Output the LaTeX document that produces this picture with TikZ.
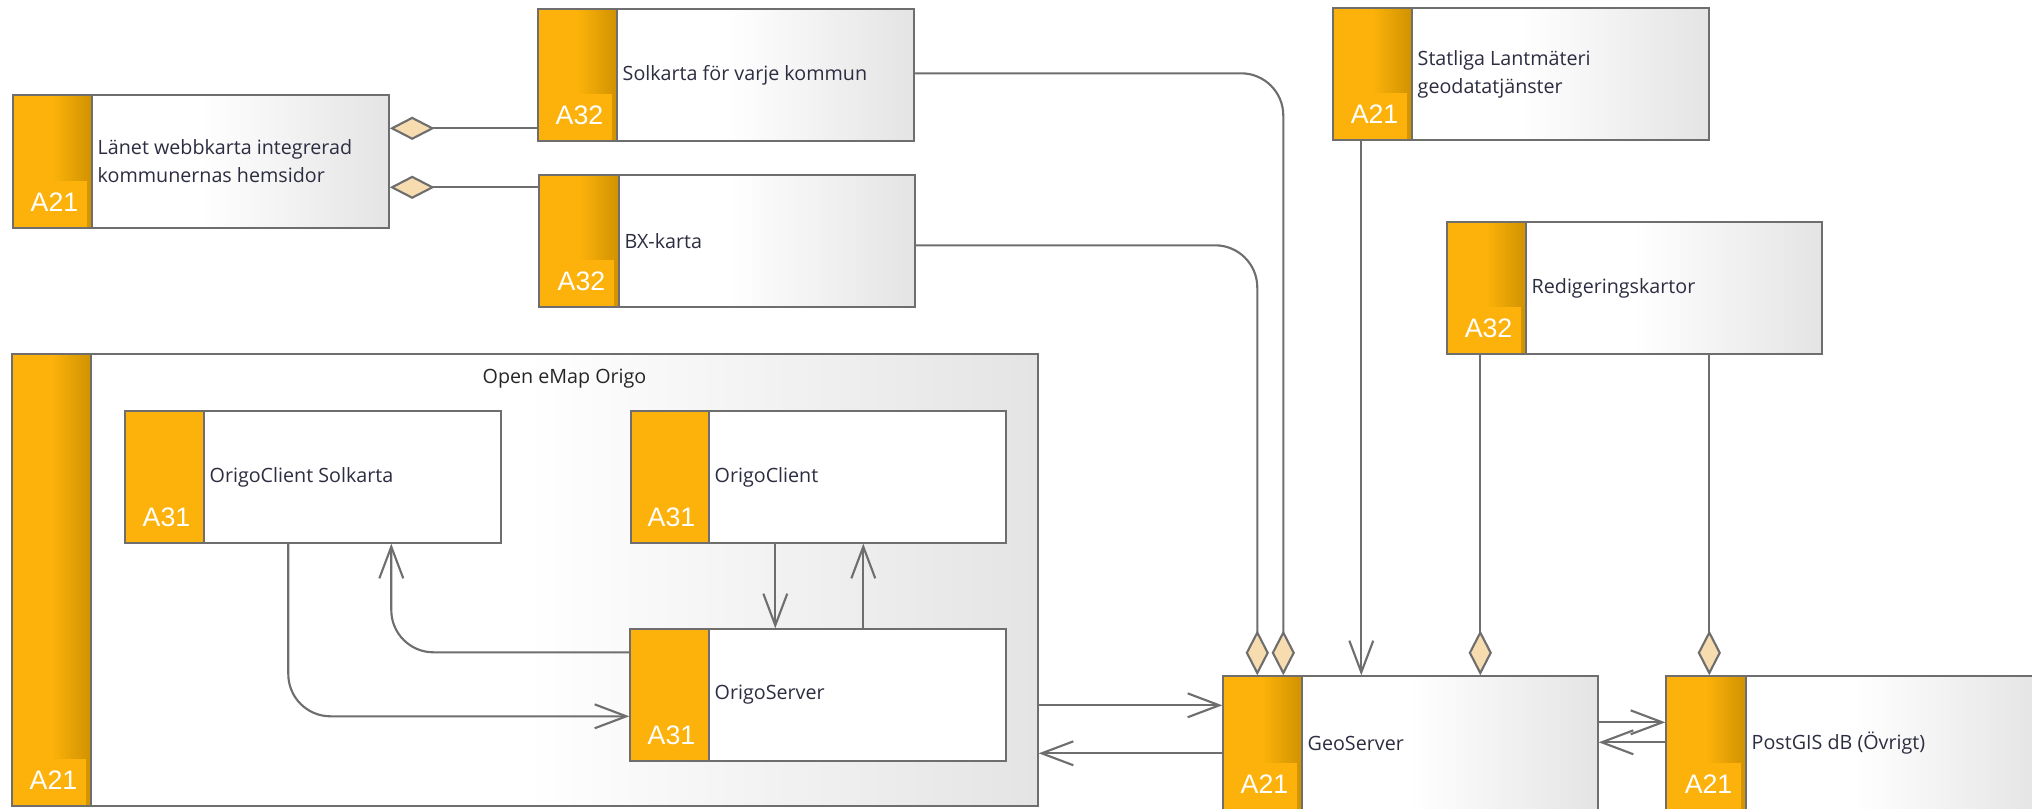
\documentclass[tikz,border=0pt]{standalone}
\usepackage{fontspec}
\setmainfont{Open Sans}
\newfontfamily\lblfont{Liberation Sans}
\usetikzlibrary{arrows.meta,calc,fit}
\definecolor{aorange}{RGB}{252,178,10}
\definecolor{adark}{RGB}{208,146,0}
\definecolor{boxgray}{RGB}{228,228,228}
\definecolor{linegray}{RGB}{110,110,110}
\definecolor{diafill}{RGB}{247,220,175}
\definecolor{txtcol}{RGB}{45,45,65}
\tikzset{
  frame/.style={draw=linegray,line width=0.6pt},
  conn/.style={draw=linegray,line width=0.6pt},
  maintext/.style={inner sep=0pt,font=\fontsize{5.6pt}{8pt}\selectfont,text=txtcol,align=left},
  lbltext/.style={inner sep=0pt,font=\lblfont\fontsize{7.6pt}{8pt}\selectfont,text=white},
  titletext/.style={inner sep=0pt,font=\fontsize{5.6pt}{8pt}\selectfont,text=black!85},
  myopen/.tip={Straight Barb[length=9pt,width=6.8pt]},
  mydia/.tip={Diamond[length=12.8pt,width=6.6pt,fill=diafill]},
}
% #1 name, #2 x1, #3 y1, #4 x2, #5 y2, #6 strip right, #7 label, #8 text
\newcommand\ArchBox[8]{%
  \fill[white] ({#2},{#3}) rectangle ({#4},{#5});
  \shade[left color=white,right color=boxgray] ({(#2+#4)/2},{#3}) rectangle ({#4},{#5});
  \fill[aorange] ({#2},{#3}) rectangle ({#6},{#5});
  \shade[left color=aorange,right color=adark] ({#2+0.5*(#6-#2)},{#3}) rectangle ({#6},{#5});
  \fill[aorange] ({#2},{#5-47}) rectangle ({#6-5},{#5});
  \draw[frame] ({#2},{#3}) rectangle ({#4},{#5}) ({#6},{#3}) -- ({#6},{#5});
  \node[fit={({#2},{#3}) ({#4},{#5})},inner sep=0pt] (#1) {};
  \node[lbltext,anchor=base east] (#1-l) at ({#6-13},{#5-17}) {#7};
  \node[maintext,anchor=west] (#1-t) at ({#6+5},{(#3+#5)/2}) {#8};
}
\newcommand\ArchFlat[8]{%
  \fill[white] ({#2},{#3}) rectangle ({#4},{#5});
  \fill[aorange] ({#2},{#3}) rectangle ({#6},{#5});
  \draw[frame] ({#2},{#3}) rectangle ({#4},{#5}) ({#6},{#3}) -- ({#6},{#5});
  \node[fit={({#2},{#3}) ({#4},{#5})},inner sep=0pt] (#1) {};
  \node[lbltext,anchor=base east] (#1-l) at ({#6-13},{#5-17}) {#7};
  \node[maintext,anchor=west] (#1-t) at ({#6+5},{(#3+#5)/2}) {#8};
}
\begin{document}
\begin{tikzpicture}[x=0.01cm,y=-0.01cm]
\clip (0,0) rectangle (2032,808);
\fill[white] (0,0) rectangle (2032,808);

% container
\ArchBox{cont}{12}{354}{1038}{806}{91}{A21}{}
\node[titletext,anchor=base] (cont-title) at (564.5,383) {Open eMap Origo};

% boxes
\ArchBox{lan}{13}{95}{389}{228}{92}{A21}{Länet webbkarta integrerad\\kommunernas hemsidor}
\ArchBox{sol}{538}{9}{914}{141}{617}{A32}{Solkarta för varje kommun}
\ArchBox{bx}{539}{175}{915}{307}{619}{A32}{BX-karta}
\ArchBox{stat}{1333}{8}{1709}{140}{1412}{A21}{Statliga Lantmäteri\\geodatatjänster}
\ArchBox{red}{1447}{222}{1822}{354}{1526}{A32}{Redigeringskartor}
\ArchBox{geo}{1223}{676}{1598}{810}{1302}{A21}{GeoServer}
\ArchBox{pg}{1666}{676}{2042}{810}{1746}{A21}{PostGIS dB (Övrigt)}

\ArchFlat{ocs}{125}{411}{501}{543}{204}{A31}{OrigoClient Solkarta}
\ArchFlat{oc}{631}{411}{1006}{543}{709}{A31}{OrigoClient}
\ArchFlat{os}{630}{629}{1006}{761}{709}{A31}{OrigoServer}

% connectors to Länet
\draw[conn,{mydia}-] ($(lan.north east)+(0,34)$) coordinate (la1) -- (la1 -| sol.west);
\draw[conn,{mydia}-] ($(lan.north east)+(0,93)$) coordinate (la2) -- (la2 -| bx.west);

% connectors to GeoServer
\draw[conn,rounded corners=12,-{mydia}] ($(sol.north east)+(0,65)$) -| ($(geo.north west)+(61,0)$);
\draw[conn,rounded corners=12,-{mydia}] ($(bx.north east)+(0,71)$) -| ($(geo.north west)+(35,0)$);
\draw[conn,-{myopen}] ($(stat.south west)+(29,0)$) coordinate (s1) -- (s1 |- geo.north);
\draw[conn,-{mydia}] ($(red.south west)+(34,0)$) coordinate (r1) -- (r1 |- geo.north);
\draw[conn,-{mydia}] ($(red.south west)+(263,0)$) coordinate (r2) -- (r2 |- pg.north);

% GeoServer <-> PostGIS
\draw[conn,-{myopen}] ($(geo.north east)+(0,47)$) coordinate (g1) -- (g1 -| pg.west);
\draw[conn,-{myopen}] ($(pg.north west)+(0,67)$) coordinate (p1) -- (p1 -| geo.east);

% container <-> GeoServer
\path ($(geo.north west)+(0,30)$) coordinate (g2) ($(geo.north west)+(0,78)$) coordinate (g3);
\draw[conn,-{myopen}] (g2 -| cont.east) -- (g2);
\draw[conn,-{myopen}] (g3) -- (g3 -| cont.east);

% inside Origo
\draw[conn,-{myopen}] ($(oc.south west)+(145,0)$) coordinate (o1) -- (o1 |- os.north);
\draw[conn,-{myopen}] ($(os.north west)+(234,0)$) coordinate (o2) -- (o2 |- oc.south);
\draw[conn,rounded corners=12,-{myopen}] ($(ocs.south west)+(164,0)$) |- ($(os.north west)+(0,88)$);
\draw[conn,rounded corners=12,-{myopen}] ($(os.north west)+(0,24)$) -| ($(ocs.south west)+(267,0)$);
\end{tikzpicture}
\end{document}
